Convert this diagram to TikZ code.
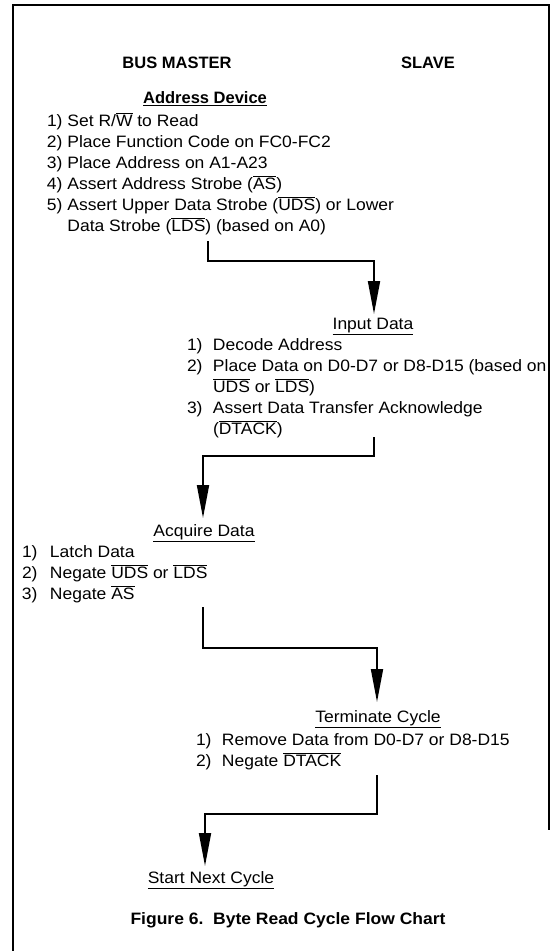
\documentclass[tikz,border=0pt]{standalone}
\usepackage{fontspec}
\setmainfont[FakeStretch=1.06]{Liberation Sans}
\newfontfamily\hdfont{Liberation Sans}
\usetikzlibrary{arrows.meta}
\newcommand\ovl[1]{$\overline{\mbox{#1}}$}
\newcommand\ul[1]{\vtop{\hbox{#1}\kern1.6pt\hrule height 1.1pt}}
\begin{document}
\begin{tikzpicture}[x=1pt,y=-1pt,
  every node/.style={inner sep=0pt, outer sep=0pt},
  txt/.style={font=\fontsize{16.5}{21}\selectfont, anchor=base west},
  hd/.style={font=\fontsize{16.5}{21}\selectfont, anchor=base},
  bhd/.style={font=\fontsize{16.5}{21}\selectfont\hdfont\bfseries, anchor=base},
  frame/.style={line width=1.4pt},
  conn/.style={line width=1.8pt, -{Triangle[length=33pt,width=12pt]}}]
\useasboundingbox (0,0) rectangle (553,951);
\draw[frame] (13,951) -- (13,5) -- (549,5) -- (549,830);
% column headers
\node[bhd] (bm) at (177,68) {BUS MASTER};
\node[bhd] (sl) at (428,68) {SLAVE};
% Address device
\node[bhd, font=\fontsize{16.5}{21}\selectfont\hdfont\bfseries] (ad) at (205,103) {\ul{Address Device}};
\node[txt] (adl) at (47,126) {\begin{tabular}[t]{@{}l@{\ }l@{}}
1)&Set R/\ovl{W} to Read\\
2)&Place Function Code on FC0-FC2\\
3)&Place Address on A1-A23\\
4)&Assert Address Strobe (\ovl{AS})\\
5)&Assert Upper Data Strobe (\ovl{UDS}) or Lower\\
  &Data Strobe (\ovl{LDS}) (based on A0)
\end{tabular}};
% Input data
\node[hd] (id) at (373,329) {\ul{Input Data}};
\node[txt] (idl) at (187,350) {\begin{tabular}[t]{@{}p{26pt}@{}l@{}}
1)&Decode Address\\
2)&Place Data on D0-D7 or D8-D15 (based on\\
  &\ovl{UDS} or \ovl{LDS})\\
3)&Assert Data Transfer Acknowledge\\
  &(\ovl{DTACK})
\end{tabular}};
% Acquire data
\node[hd] (aq) at (204,536) {\ul{Acquire Data}};
\node[txt] (aql) at (22,557) {\begin{tabular}[t]{@{}p{28pt}@{}l@{}}
1)&Latch Data\\
2)&Negate \ovl{UDS} or \ovl{LDS}\\
3)&Negate \ovl{AS}
\end{tabular}};
% Terminate cycle
\node[hd] (tc) at (378,722) {\ul{Terminate Cycle}};
\node[txt] (tcl) at (196,745) {\begin{tabular}[t]{@{}p{26pt}@{}l@{}}
1)&Remove Data from D0-D7 or D8-D15\\
2)&Negate \ovl{DTACK}
\end{tabular}};
% Start next cycle
\node[hd] (sn) at (211,883) {\ul{Start Next Cycle}};
% caption
\node[hd, font=\fontsize{16.5}{21}\selectfont\bfseries] (cap) at (288,924) {Figure 6.\ \ Byte Read Cycle Flow Chart};
% connectors
\coordinate (a1) at (208,241);
\coordinate (a1e) at (374,314);
\draw[conn] (a1) |- (374,261) -- (a1e);
\coordinate (a2) at (374,437);
\coordinate (a2e) at (203,518);
\draw[conn] (a2) |- (203,456) -- (a2e);
\coordinate (a3) at (203,607);
\coordinate (a3e) at (377,702);
\draw[conn] (a3) |- (377,648) -- (a3e);
\coordinate (a4) at (377,775);
\coordinate (a4e) at (205,866);
\draw[conn] (a4) |- (205,814) -- (a4e);
\end{tikzpicture}
\end{document}
